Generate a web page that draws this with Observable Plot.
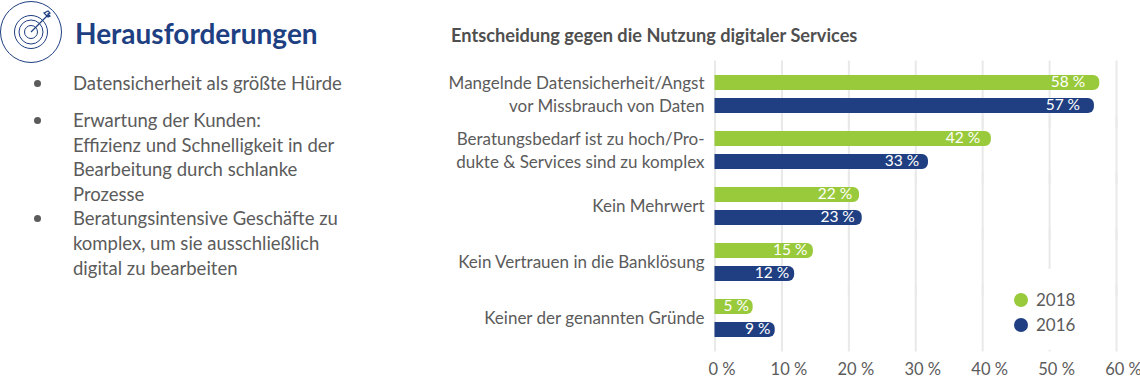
<!DOCTYPE html>
<html><head><meta charset="utf-8">
<script src="https://cdn.jsdelivr.net/npm/d3@7"></script>
<script src="https://cdn.jsdelivr.net/npm/@observablehq/plot@0.6"></script>
<style>
html,body{margin:0;padding:0;background:#fff;}
#page{position:relative;width:1140px;height:376px;overflow:hidden;font-family:Lato,sans-serif;color:#5b5b5b;}
#chart{position:absolute;left:0;top:0;}
#title{position:absolute;left:75px;top:16px;font-size:28px;font-weight:700;color:#1e3f82;line-height:34px;white-space:nowrap;}
#sub{position:absolute;left:451px;top:24px;font-size:18.2px;font-weight:700;color:#4f4f4f;line-height:22px;white-space:nowrap;}
#icon{position:absolute;left:0;top:0;}
#list{position:absolute;left:0;top:0;margin:0;padding:0;list-style:none;font-size:18.5px;line-height:25px;}
#list li{position:absolute;left:73px;white-space:nowrap;}
#list li::before{content:"";position:absolute;left:-39px;top:9px;width:7px;height:7px;border-radius:50%;background:#5b5b5b;}
#legend{position:absolute;left:1003px;top:269px;width:90px;height:81px;background:#fff;font-size:17px;}
#legend div{position:absolute;left:11px;white-space:nowrap;line-height:24px;padding-left:22px;}
#legend span{position:absolute;left:0;top:5px;width:14px;height:14px;border-radius:50%;}
</style></head><body>
<div id="page">
<div id="chart"></div>
<svg id="icon" width="66" height="66" fill="none" stroke="#1e3f82">
<circle cx="31" cy="32" r="30.5" stroke-width="1"/>
<circle cx="31" cy="32" r="16.5" stroke-width="1"/>
<circle cx="31" cy="32" r="12" stroke-width="1"/>
<circle cx="31" cy="32" r="6.5" stroke-width="1"/>
<path d="M31 32L49 14M44 13l4-2 2 2-2 1 2 2-2 1-2-2zM48 17l2-2" stroke-width="1.2"/>
</svg>
<div id="title">Herausforderungen</div>
<div id="sub">Entscheidung gegen die Nutzung digitaler Services</div>
<ul id="list"></ul>
<div id="legend"></div>
</div>
<script>
const categories = [
  "Mangelnde Datensicherheit/Angst\nvor Missbrauch von Daten",
  "Beratungsbedarf ist zu hoch/Pro-\ndukte & Services sind zu komplex",
  "Kein Mehrwert",
  "Kein Vertrauen in die Banklösung",
  "Keiner der genannten Gründe"
];
const years = ["2018", "2016"];
const colors = ["#99ca3c", "#1f3f82"];
const labels2018 = [58, 42, 22, 15, 5];
const labels2016 = [57, 33, 23, 12, 9];
// bar lengths as drawn in the picture
const bars2018 = [57.5, 41.3, 21.6, 14.7, 5.7];
const bars2016 = [56.7, 31.9, 22, 11.9, 9];
const xTicks = [0, 10, 20, 30, 40, 50, 60];
const bullets = [
  ["Datensicherheit als größte Hürde"],
  ["Erwartung der Kunden:", "Effizienz und Schnelligkeit in der", "Bearbeitung durch schlanke", "Prozesse"],
  ["Beratungsintensive Geschäfte zu", "komplex, um sie ausschließlich", "digital zu bearbeiten"]
];

const rows = categories.flatMap((c, i) => [
  {category: c, year: years[0], bar: bars2018[i], label: labels2018[i]},
  {category: c, year: years[1], bar: bars2016[i], label: labels2016[i]}
]);

const plot = Plot.plot({
  width: 1140, height: 376,
  marginLeft: 714.5, marginRight: 24, marginTop: 60, marginBottom: 26,
  style: {fontFamily: "Lato, sans-serif", background: "transparent"},
  x: {domain: [0, 60]},
  fy: {domain: categories, range: [65.5, 345.5], padding: 0, label: null},
  y: {domain: years, range: [60, 116], paddingInner: 0.34, paddingOuter: 0.36, axis: null},
  color: {domain: years, range: colors},
  marks: [
    Plot.gridX(xTicks, {stroke: "#e9e9e9", strokeOpacity: 1, strokeWidth: 2, insetTop: -5.5, insetBottom: -5.5}),
    Plot.axisFy({anchor: "left", label: null, tickSize: 0, tickPadding: 10.5, fontSize: 17, lineHeight: 1.34, dy: -1.5, color: "#5b5b5b"}),
    Plot.barX(rows, {x1: 0, x2: "bar", y: "year", fy: "category", fill: "year", rx2: 6}),
    Plot.text(rows, {x: d => d.bar * 0.97, y: "year", fy: "category", text: d => d.label + " %", textAnchor: "end", dx: -3, dy: -0.5, fill: "#fff", fontSize: 15.5}),
    Plot.axisX(xTicks, {anchor: "bottom", label: null, tickSize: 0, tickPadding: 16.5, dx: 7, tickFormat: d => d + " %", fontSize: 16.5, color: "#5b5b5b"})
  ]
});
document.getElementById("chart").append(plot);

const tops = [71, 108, 206];
const ul = document.getElementById("list");
bullets.forEach((lines, i) => {
  const li = document.createElement("li");
  li.style.top = tops[i] + "px";
  if (i === 1) li.style.lineHeight = "24.7px";
  li.innerHTML = lines.join("<br>");
  ul.append(li);
});
const lg = document.getElementById("legend");
years.forEach((y, i) => {
  const d = document.createElement("div");
  d.style.top = (19 + i * 25) + "px";
  d.innerHTML = `<span style="background:${colors[i]}"></span>${y}`;
  lg.append(d);
});
</script>
</body></html>
